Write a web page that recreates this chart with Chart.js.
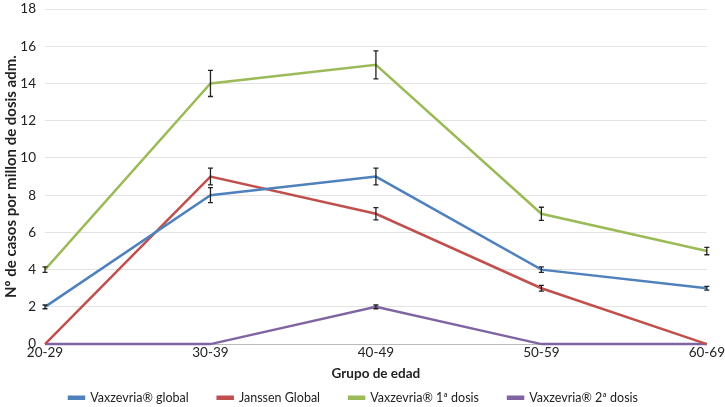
<!DOCTYPE html>
<html lang="es">
<head>
  <meta charset="UTF-8">
  <title>Casos por grupo de edad</title>
  <script src="https://cdn.jsdelivr.net/npm/chart.js"></script>
  <style>
    html, body { margin: 0; padding: 0; background: #fff; }
    #wrap { width: 725px; height: 407px; }
  </style>
</head>
<body>
<div id="wrap"><canvas id="chart"></canvas></div>
<script>
  const grupos = ['20-29', '30-39', '40-49', '50-59', '60-69'];

  const vaxGlobal = [2, 8, 9, 4, 3];
  const janssen = [0, 9, 7, 3, 0];
  const vaxDosis1 = [4, 14, 15, 7, 5];
  const vaxDosis2 = [0, 0, 2, 0, 0];

  // half-width of the error bars
  const errVaxGlobal = [0.1, 0.4, 0.45, 0.15, 0.1];
  const errJanssen = [0, 0.45, 0.33, 0.15, 0];
  const errDosis1 = [0.15, 0.7, 0.75, 0.35, 0.2];
  const errDosis2 = [0, 0, 0.1, 0, 0];

  const errorBars = {
    id: 'errorBars',
    afterDatasetsDraw(chart) {
      const { ctx, scales: { x, y } } = chart;
      ctx.save();
      ctx.strokeStyle = '#222';
      ctx.lineWidth = 1.3;
      chart.data.datasets.forEach(ds => {
        ds.err.forEach((e, i) => {
          if (!e) return;
          const px = x.getPixelForValue(i);
          const top = y.getPixelForValue(ds.data[i] + e);
          const bot = y.getPixelForValue(ds.data[i] - e);
          ctx.beginPath();
          ctx.moveTo(px, top); ctx.lineTo(px, bot);
          ctx.moveTo(px - 2.5, top); ctx.lineTo(px + 2.5, top);
          ctx.moveTo(px - 2.5, bot); ctx.lineTo(px + 2.5, bot);
          ctx.stroke();
        });
      });
      ctx.restore();
    }
  };

  // legend box is a bit too tall by default, trim it
  const tightLegend = {
    id: 'tightLegend',
    beforeLayout(chart) {
      const lg = chart.legend;
      if (lg && !lg._trimmed) {
        const fit = lg.fit;
        lg.fit = function () { fit.call(this); this.height -= 7; };
        lg._trimmed = true;
      }
    }
  };

  function serie(label, data, err, color) {
    return {
      label, data, err,
      borderColor: color,
      backgroundColor: color,
      borderWidth: 2.5,
      pointRadius: 0,
      tension: 0,
      clip: false
    };
  }

  Chart.defaults.font.family = 'Lato, "Open Sans", sans-serif';
  Chart.defaults.color = '#222';

  new Chart(document.getElementById('chart'), {
    type: 'line',
    data: {
      labels: grupos,
      datasets: [
        serie('Vaxzevria® global', vaxGlobal, errVaxGlobal, '#4F81BD'),
        serie('Janssen Global', janssen, errJanssen, '#C0504D'),
        serie('Vaxzevria® 1ª dosis', vaxDosis1, errDosis1, '#9BBB59'),
        serie('Vaxzevria® 2ª dosis', vaxDosis2, errDosis2, '#8064A2')
      ]
    },
    options: {
      responsive: true,
      maintainAspectRatio: false,
      animation: false,
      layout: { padding: { top: 9, right: 18, left: 0, bottom: 0 } },
      plugins: {
        legend: {
          position: 'bottom',
          labels: {
            boxWidth: 15,
            boxHeight: 2,
            padding: 4,
            font: { size: 12.5 },
            // extra gap between items, like the original legend
            generateLabels(chart) {
              const items = Chart.defaults.plugins.legend.labels.generateLabels(chart);
              items.forEach((it, i) => { if (i < items.length - 1) it.text += '\u2003\u2003\u2002'; });
              return items;
            }
          }
        },
        tooltip: { enabled: false }
      },
      scales: {
        x: {
          offset: false,
          grid: { display: false, drawTicks: false },
          border: { color: '#bbb' },
          ticks: { font: { size: 13.5 }, padding: 0, maxRotation: 0 },
          title: { display: true, text: 'Grupo de edad', font: { size: 13.5, weight: 'bold' }, padding: { top: 5, bottom: 6 } }
        },
        y: {
          min: 0, max: 18,
          ticks: { stepSize: 2, font: { size: 13.5 }, padding: 9 },
          grid: { color: '#e3e3e3', drawTicks: false },
          border: { display: false },
          title: { display: true, text: 'Nº de casos por millon de dosis adm.', font: { size: 15, weight: 'bold' }, padding: { top: 2, bottom: 0 } },
          afterFit(scale) {
            scale.width = 45;
            scale.paddingTop = 0;
          }
        }
      }
    },
    plugins: [errorBars, tightLegend]
  });
</script>
</body>
</html>
